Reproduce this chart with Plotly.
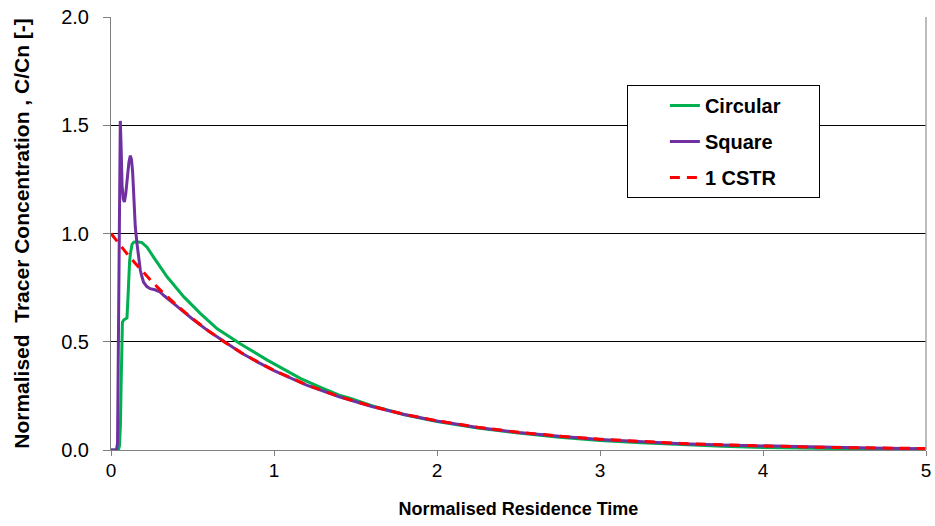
import plotly.graph_objects as go

# ---- data ----
circ_t = [0, 0.045, 0.052, 0.058, 0.062, 0.066, 0.070, 0.078, 0.088, 0.098, 0.104, 0.108, 0.114, 0.119,
          0.129, 0.14, 0.16, 0.19, 0.221, 0.262, 0.303, 0.344, 0.447, 0.549, 0.652, 0.795, 0.959,
          1.164, 1.3, 1.4, 1.47, 1.6, 1.8, 2.0, 2.25, 2.5, 2.75, 3.0, 3.25, 3.5, 3.75, 4.0, 4.25,
          4.5, 4.75, 5.0]
circ_y = [0, 0, 0.02, 0.12, 0.30, 0.56, 0.59, 0.60, 0.605, 0.61, 0.70, 0.815, 0.87, 0.906,
          0.95, 0.96, 0.962, 0.958, 0.937, 0.89, 0.845, 0.80, 0.707, 0.63, 0.56, 0.49, 0.415,
          0.33, 0.285, 0.253, 0.238, 0.205, 0.163, 0.132, 0.101, 0.078, 0.059, 0.044, 0.033,
          0.024, 0.017, 0.012, 0.008, 0.005, 0.003, 0.002]

sq_t = [0, 0.033, 0.040, 0.046, 0.052, 0.057, 0.062, 0.068, 0.075, 0.082, 0.09, 0.1, 0.11, 0.119,
        0.126, 0.133, 0.14, 0.149, 0.16, 0.17, 0.18, 0.19, 0.2, 0.22, 0.24, 0.27, 0.3, 0.33, 0.365,
        0.4, 0.45, 0.5, 0.6, 0.7, 0.8, 0.9, 1.0, 1.2, 1.4, 1.6, 1.8, 2.0, 2.25, 2.5, 2.75, 3.0,
        3.25, 3.5, 3.75, 4.0, 4.25, 4.5, 4.75, 5.0]
sq_y = [0, 0, 0.03, 0.70, 1.35, 1.52, 1.40, 1.22, 1.16, 1.145, 1.18, 1.26, 1.33, 1.36,
        1.34, 1.28, 1.15, 1.03, 0.95, 0.89, 0.83, 0.80, 0.775, 0.755, 0.745, 0.74, 0.73, 0.71, 0.69,
        0.667, 0.636, 0.605, 0.548, 0.496, 0.448, 0.406, 0.367, 0.300, 0.246, 0.201, 0.164, 0.134,
        0.104, 0.081, 0.063, 0.049, 0.038, 0.029, 0.023, 0.018, 0.014, 0.011, 0.008, 0.006]

cstr_t = [0, 0.05, 0.1, 0.15, 0.2, 0.25, 0.3, 0.4, 0.5, 0.6, 0.7, 0.8, 0.9, 1.0, 1.2, 1.4, 1.6,
          1.8, 2.0, 2.25, 2.5, 2.75, 3.0, 3.25, 3.5, 3.75, 4.0, 4.25, 4.5, 4.75, 5.0]
cstr_y = [1.0, 0.951, 0.905, 0.861, 0.819, 0.779, 0.741, 0.670, 0.607, 0.549, 0.497, 0.449, 0.407,
          0.368, 0.301, 0.247, 0.202, 0.165, 0.135, 0.105, 0.082, 0.064, 0.050, 0.039, 0.030,
          0.024, 0.018, 0.014, 0.011, 0.009, 0.007]

x_ticks = [0, 1, 2, 3, 4, 5]
y_ticks = [0.0, 0.5, 1.0, 1.5, 2.0]
y_tick_labels = ["0.0", "0.5", "1.0", "1.5", "2.0"]

FONT = "Arial, Liberation Sans, sans-serif"

fig = go.Figure()
fig.add_trace(go.Scatter(x=circ_t, y=circ_y, mode="lines",
                         name="<b>Circular</b>&nbsp;&nbsp;&nbsp;&nbsp;&nbsp;&nbsp;",
                         line=dict(color="#00B050", width=3), legendgroup="a"))
fig.add_trace(go.Scatter(x=sq_t, y=sq_y, mode="lines", name="<b>Square</b>",
                         line=dict(color="#7030A0", width=3), legendgroup="b"))
fig.add_trace(go.Scatter(x=cstr_t, y=cstr_y, mode="lines", name="<b>1 CSTR</b>",
                         line=dict(color="#FF0000", width=3, dash="10px,7px"), legendgroup="c"))

fig.update_layout(
    width=935, height=526,
    margin=dict(l=111, r=9, t=17, b=76),
    paper_bgcolor="white", plot_bgcolor="white",
    font=dict(family=FONT, size=20, color="black"),
    showlegend=True,
    legend=dict(x=0.633, y=0.843, xanchor="left", yanchor="top",
                bordercolor="black", borderwidth=1, bgcolor="white",
                font=dict(family=FONT, size=20, color="black"),
                tracegroupgap=7, indentation=37,
                traceorder="grouped"),
    xaxis=dict(range=[0, 5], tickvals=x_ticks, ticks="outside", ticklen=5, tickcolor="#808080",
               showline=True, linecolor="#808080", linewidth=1, showgrid=False, zeroline=False,
               tickfont=dict(size=19), ticklabelstandoff=-2, automargin=False,
               title=dict(text="<b>Normalised Residence Time</b>", font=dict(size=18), standoff=22)),
    yaxis=dict(range=[0, 2], tickvals=y_ticks, ticktext=y_tick_labels, ticks="outside", ticklen=7,
               tickcolor="#808080", showline=True, linecolor="#808080", linewidth=1,
               showgrid=True, gridcolor="#000000", gridwidth=1, zeroline=False,
               tickfont=dict(size=20), ticklabelstandoff=10, automargin=False,
               title=dict(text="<b>Normalised  Tracer Concentration , C/Cn [-]</b>",
                          font=dict(size=21), standoff=25)),
)
fig.add_shape(type="line", xref="paper", yref="paper", x0=1, x1=1, y0=0, y1=1,
              line=dict(color="#A6A6A6", width=1.5))

fig.write_html("out.html", config={"displayModeBar": False},
               post_script="document.body.style.margin='0px';")
